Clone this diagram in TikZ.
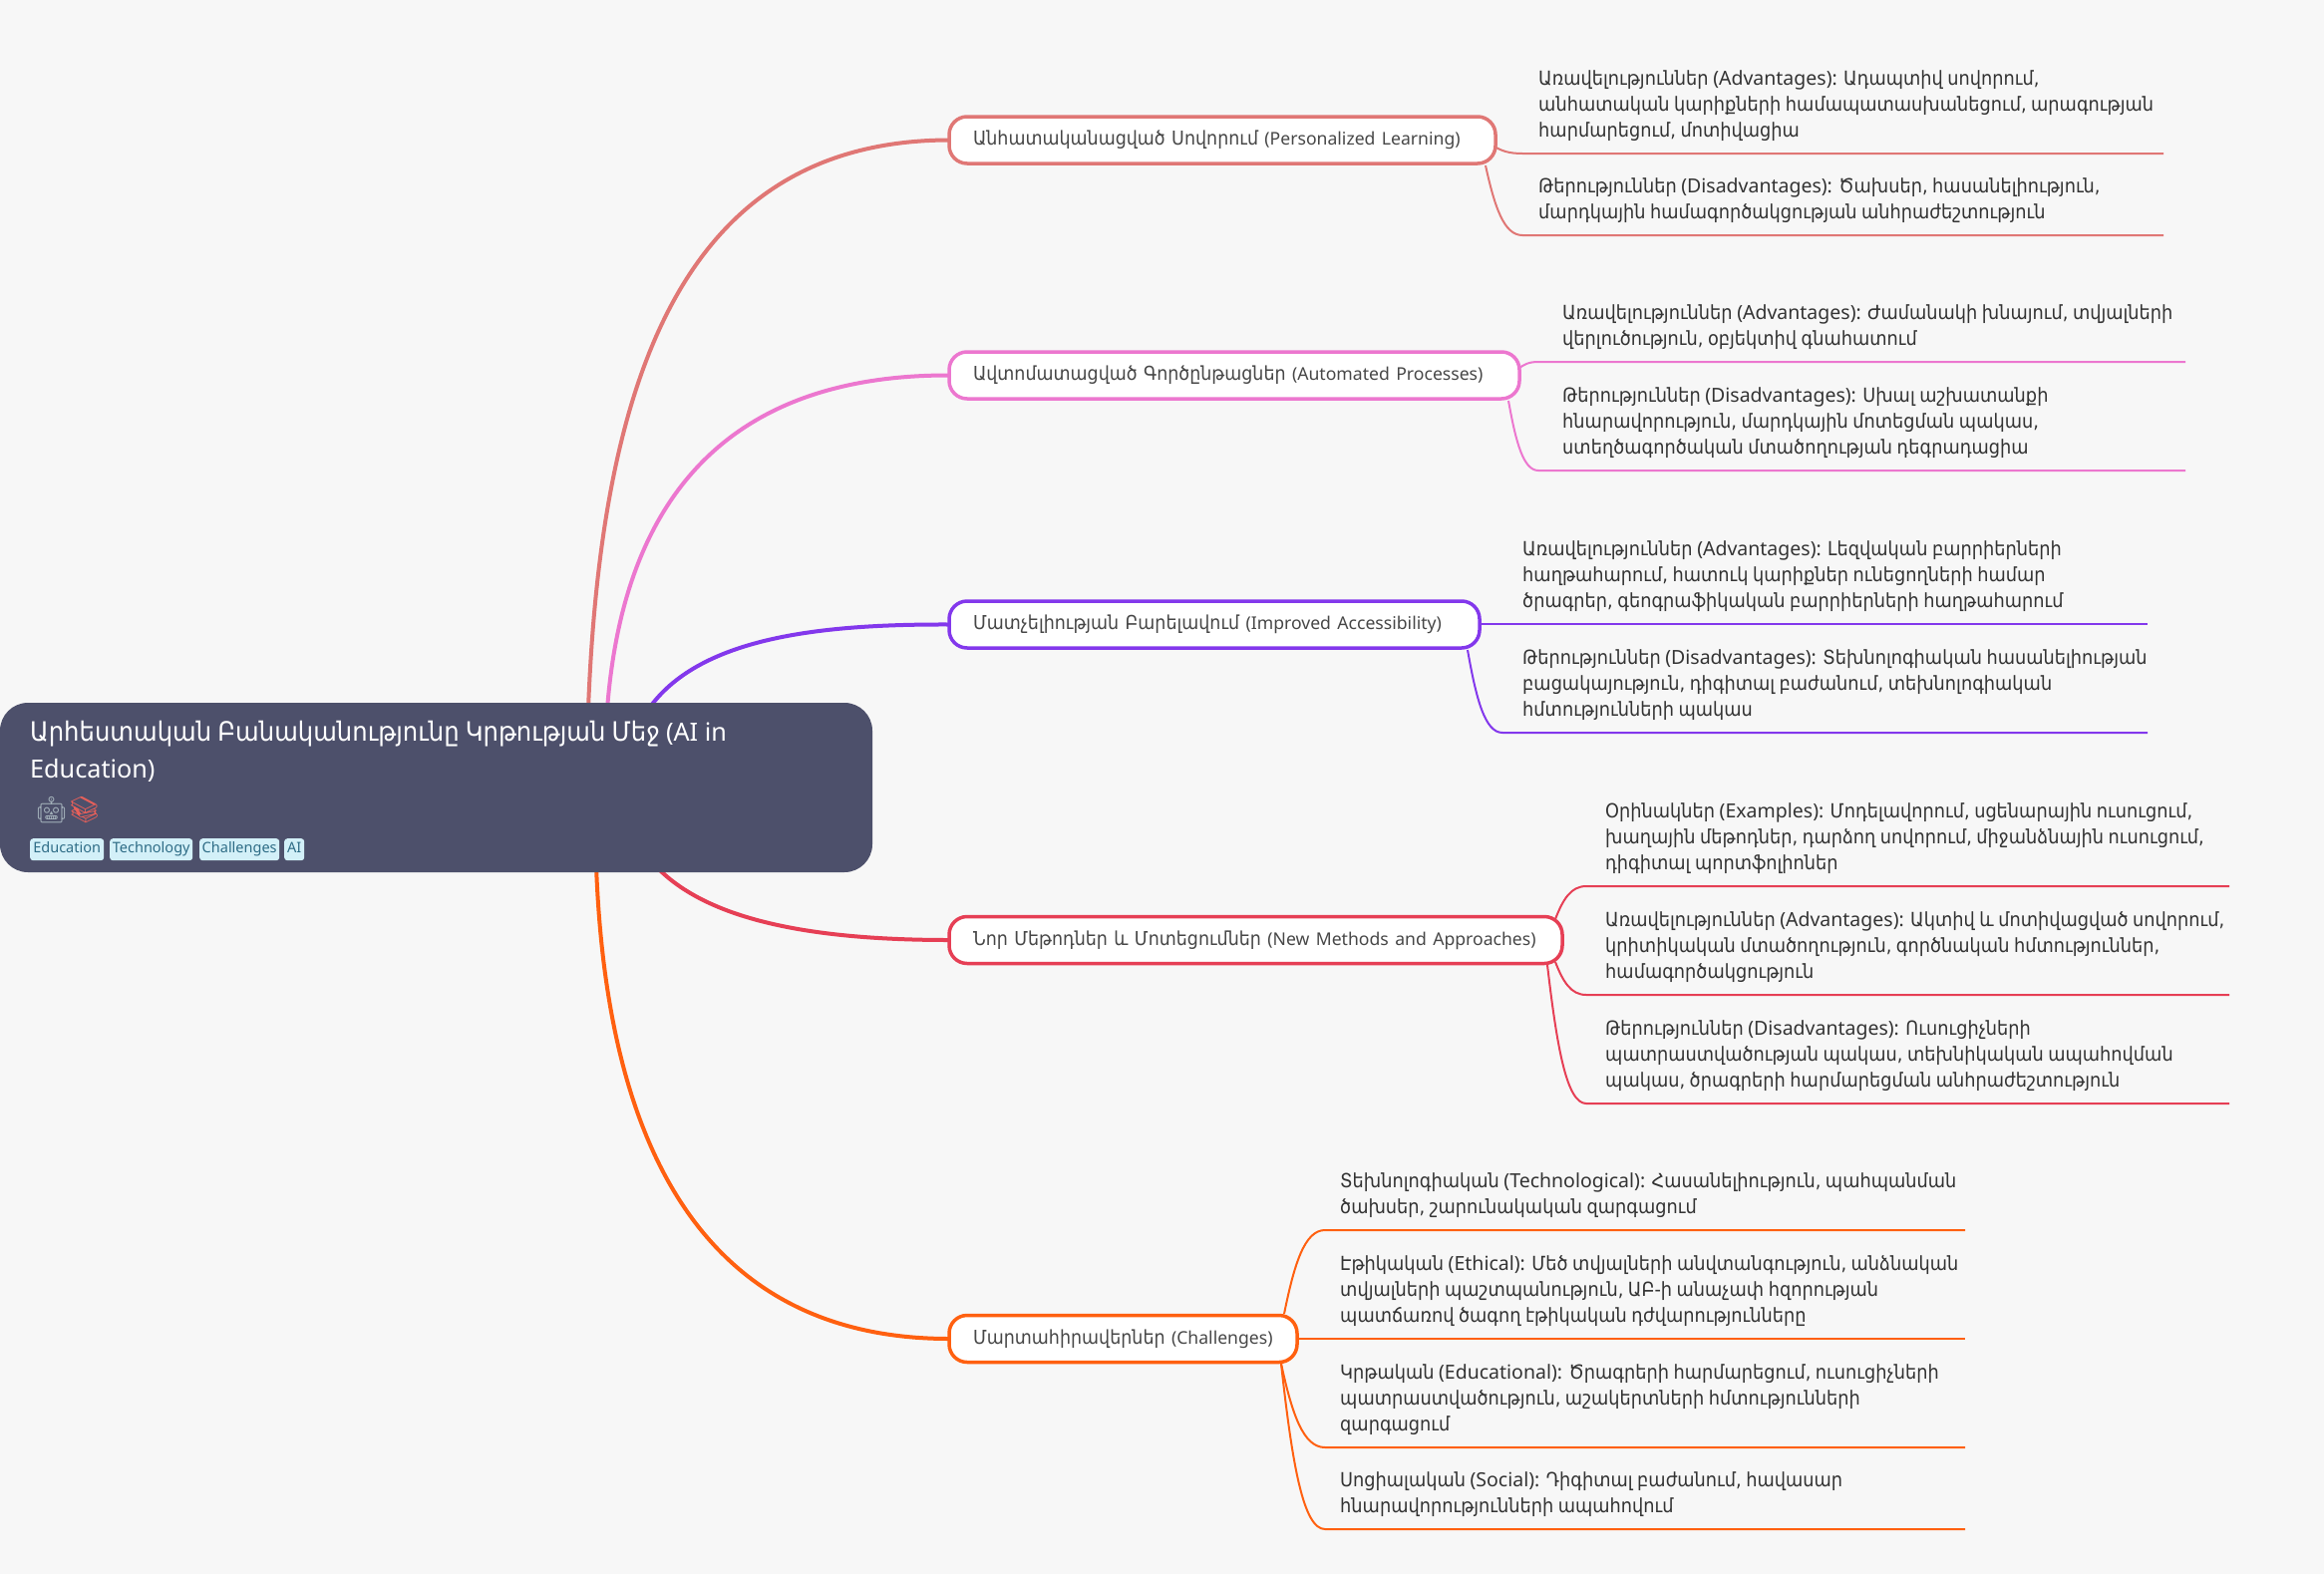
\documentclass[tikz,border=0pt]{standalone}
\usepackage{fontspec}
\usetikzlibrary{backgrounds,calc}
\setmainfont[FakeStretch=0.91,WordSpace=0.8]{DejaVu Sans}
\newfontfamily\lat{Noto Sans}
\newfontfamily\emo{Noto Emoji}
\definecolor{bgc}{HTML}{F7F7F7}
\definecolor{rootc}{HTML}{4D506B}
\definecolor{tagf}{HTML}{D3F0F8}
\definecolor{tagt}{HTML}{2E6C86}
\definecolor{txt}{HTML}{333333}
\definecolor{ca}{HTML}{E07775}
\definecolor{cb}{HTML}{EC77CF}
\definecolor{cc}{HTML}{8338EC}
\definecolor{cd}{HTML}{E63F55}
\definecolor{ce}{HTML}{FF6010}
\definecolor{robotc}{HTML}{A3B1BA}
\definecolor{bookc}{HTML}{E8605A}
\newcommand\la[1]{{\lat\addfontfeatures{Scale=1.0}#1}}
\newcommand\lb[1]{{\lat\addfontfeatures{Scale=0.917}#1}}
\newcommand\lc[1]{{\lat\addfontfeatures{Scale=0.944}#1}}
\tikzset{
  rootbox/.style={fill=rootc,rounded corners=28pt,minimum width=875pt,minimum height=170pt,inner sep=0pt,outer sep=0pt,anchor=north west},
  roottitle/.style={text=white,anchor=north west,inner sep=0pt,align=left,font=\fontsize{26.7}{37}\selectfont},
  tagbox/.style={fill=tagf,text=tagt,rounded corners=3pt,inner ysep=0pt,inner xsep=0pt,text height=11pt,text depth=4pt,minimum height=22pt,anchor=north west,font=\fontsize{14.5}{18}\selectfont\lat},
  mainbox/.style 2 args={draw=#1,fill=white,line width=3.5pt,outer sep=0pt,rounded corners=18pt,minimum height=47pt,inner xsep=24pt,inner ysep=0pt,anchor=west,text width=#2,text=txt!90,font=\fontsize{19.2}{26}\selectfont},
  leaftext/.style={anchor=south west,inner sep=0pt,align=left,text=txt,font=\fontsize{19.5}{26}\selectfont},
  trunk/.style={line width=4pt,draw=#1},
  twig/.style={line width=2pt,draw=#1},
}
\newcommand\lf[9]{%
  \node[leaftext] (#1) at (#8,#6-9) {#9\strut};
  \coordinate (#1s) at (#3,#4);
  \coordinate (#1b) at (#5,#6);
  \coordinate (#1e) at (#7,#6);
  \pgfmathsetmacro\cax{#3+0.25*(#5-#3)}
  \pgfmathsetmacro\cay{#4+0.6*(#6-#4)}
  \pgfmathsetmacro\cbx{#3+0.5*(#5-#3)}
  \begin{scope}[on background layer]
  \draw[twig=#2] (#1s) .. controls (\cax,\cay) and (\cbx,#6) .. (#1b) -- (#1e);
  \end{scope}
}
\begin{document}
\begin{tikzpicture}[x=1pt,y=-1pt]
\useasboundingbox (0,0) rectangle (2331,1579);
\begin{scope}[on background layer]
\fill[bgc] (0,0) rectangle (2331,1579);
\end{scope}
% root
\node[rootbox] (root) at (0,705) {};
\node[roottitle] (title) at (30,723) {Արհեստական Բանականությունը Կրթության Մեջ \lc{(AI in}\\\lc{Education)}};
\node[anchor=west,inner sep=0pt,font=\fontsize{26}{30}\selectfont\emo] (emoji) at (35,813) {\textcolor{robotc}{🤖}\textcolor{bookc}{📚}};
\node[tagbox,minimum width=74pt] (t1) at (30,841) {Education};
\node[tagbox,minimum width=83pt] (t2) at (110,841) {Technology};
\node[tagbox,minimum width=80pt] (t3) at (200,841) {Challenges};
\node[tagbox,minimum width=20pt] (t4) at (285,841) {AI};
% main nodes
\node[mainbox={ca}{500pt}] (n1) at (952,140.5) {\mbox{Անհատականացված Սովորում \lb{(Personalized Learning)}}};
\node[mainbox={cb}{524pt}] (n2) at (952,376.5) {\mbox{Ավտոմատացված Գործընթացներ \lb{(Automated Processes)}}};
\node[mainbox={cc}{484pt}] (n3) at (952,626.5) {\mbox{Մատչելիության Բարելավում \lb{(Improved Accessibility)}}};
\node[mainbox={cd}{567pt}] (n4) at (952,943) {\mbox{Նոր Մեթոդներ և Մոտեցումներ \lb{(New Methods and Approaches)}}};
\node[mainbox={ce}{301pt}] (n5) at (952,1343) {\mbox{Մարտահիրավերներ \lb{(Challenges)}}};
% trunks
\coordinate (r1) at (590,712);
\coordinate (r2) at (609,712);
\coordinate (r3) at (650,712);
\coordinate (r4) at (657,868);
\coordinate (r5) at (598,868);
\begin{scope}[on background layer]
\draw[trunk=ca] (r1) .. controls (603,370) and (690,141) .. (n1.west);
\draw[trunk=cb] (r2) .. controls (625,500) and (730,376) .. (n2.west);
\draw[trunk=cc] (r3) .. controls (700,640) and (820,626) .. (n3.west);
\draw[trunk=cd] (r4) .. controls (710,925) and (820,943) .. (n4.west);
\draw[trunk=ce] (r5) .. controls (610,1200) and (740,1343) .. (n5.west);
\end{scope}
% leaves
\lf{a1}{ca}{1499}{147}{1527}{154}{2170}{1543}{Առավելություններ \la{(Advantages):} Ադապտիվ սովորում,\\անհատական կարիքների համապատասխանեցում, արագության\\հարմարեցում, մոտիվացիա}
\lf{a2}{ca}{1490}{166}{1527}{236}{2170}{1543}{Թերություններ \la{(Disadvantages):} Ծախսեր, հասանելիություն,\\մարդկային համագործակցության անհրաժեշտություն}
\lf{b1}{cb}{1523}{370}{1543}{363}{2192}{1567}{Առավելություններ \la{(Advantages):} Ժամանակի խնայում, տվյալների\\վերլուծություն, օբյեկտիվ գնահատում}
\lf{b2}{cb}{1513}{402}{1543}{472}{2192}{1567}{Թերություններ \la{(Disadvantages):} Սխալ աշխատանքի\\հնարավորություն, մարդկային մոտեցման պակաս,\\ստեղծագործական մտածողության դեգրադացիա}
\lf{c1}{cc}{1483}{626}{1507}{626}{2154}{1527}{Առավելություններ \la{(Advantages):} Լեզվական բարրիերների\\հաղթահարում, հատուկ կարիքներ ունեցողների համար\\ծրագրեր, գեոգրաֆիկական բարրիերների հաղթահարում}
\lf{c2}{cc}{1472}{652}{1507}{735}{2154}{1527}{Թերություններ \la{(Disadvantages):} Տեխնոլոգիական հասանելիության\\բացակայություն, դիգիտալ բաժանում, տեխնոլոգիական\\հմտությունների պակաս}
\lf{d1}{cd}{1560}{922}{1591}{889}{2236}{1610}{Օրինակներ \la{(Examples):} Մոդելավորում, սցենարային ուսուցում,\\խաղային մեթոդներ, դարձող սովորում, միջանձնային ուսուցում,\\դիգիտալ պորտֆոլիոներ}
\lf{d2}{cd}{1560}{965}{1591}{998}{2236}{1610}{Առավելություններ \la{(Advantages):} Ակտիվ և մոտիվացված սովորում,\\կրիտիկական մտածողություն, գործնական հմտություններ,\\համագործակցություն}
\lf{d3}{cd}{1552}{968}{1591}{1107}{2236}{1610}{Թերություններ \la{(Disadvantages):} Ուսուցիչների\\պատրաստվածության պակաս, տեխնիկական ապահովման\\պակաս, ծրագրերի հարմարեցման անհրաժեշտություն}
\lf{e1}{ce}{1288}{1318}{1329}{1234}{1971}{1344}{Տեխնոլոգիական \la{(Technological):} Հասանելիություն, պահպանման\\ծախսեր, շարունակական զարգացում}
\lf{e2}{ce}{1300}{1343}{1329}{1343}{1971}{1344}{Էթիկական \la{(Ethical):} Մեծ տվյալների անվտանգություն, անձնական\\տվյալների պաշտպանություն, ԱԲ-ի անաչափ հզորության\\պատճառով ծագող էթիկական դժվարությունները}
\lf{e3}{ce}{1285}{1368}{1329}{1452}{1971}{1344}{Կրթական \la{(Educational):} Ծրագրերի հարմարեցում, ուսուցիչների\\պատրաստվածություն, աշակերտների հմտությունների\\զարգացում}
\lf{e4}{ce}{1285}{1368}{1329}{1534}{1971}{1344}{Սոցիալական \la{(Social):} Դիգիտալ բաժանում, հավասար\\հնարավորությունների ապահովում}
\end{tikzpicture}
\end{document}
